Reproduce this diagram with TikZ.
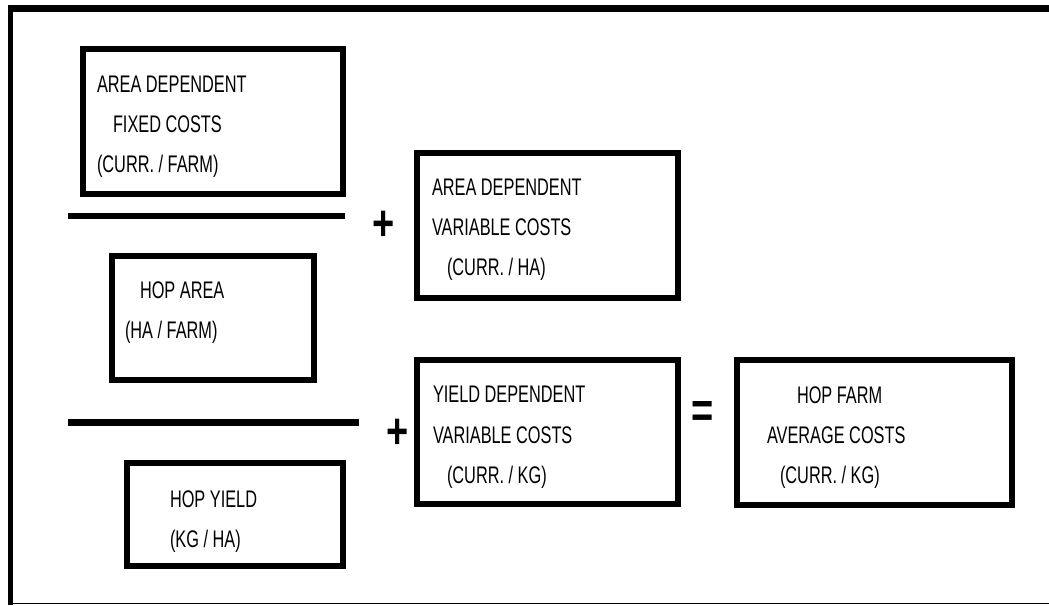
\documentclass[tikz,border=0pt]{standalone}
\usepackage{fontspec}
\setmainfont{Liberation Sans}
\newfontfamily\narrowfont[FakeStretch=0.68]{Liberation Sans}
\newfontfamily\opfont[FakeStretch=0.76]{Liberation Sans}
\tikzset{
  box/.style={draw=black, line width=6pt, rectangle, inner sep=0pt, outer sep=0pt},
  lbl/.style={anchor=base west, inner sep=0pt, outer sep=0pt, font=\narrowfont\fontsize{24}{28}\selectfont},
  op/.style={anchor=base, inner sep=0pt, outer sep=0pt, font=\opfont\bfseries\fontsize{50}{54}\selectfont},
  fracline/.style={line width=6.5pt},
}
\begin{document}
\begin{tikzpicture}[x=1pt, y=-1pt]
\useasboundingbox (0,0) rectangle (1049,605);
% outer frame
\coordinate (ftl) at (8,8.5);
\coordinate (ftr) at (1049,8.5);
\coordinate (flt) at (10.5,5);
\coordinate (flb) at (10.5,605);
\coordinate (fbl) at (8,603.5);
\coordinate (fbr) at (1049,603.5);
\draw[line width=7pt] (ftl) -- (ftr);
\draw[line width=5pt] (flt) -- (flb);
\draw[line width=1.5pt] (fbl) -- (fbr);
% boxes
\node[box, minimum width=260pt, minimum height=145pt] (fixed) at (213,121.5) {};
\node[box, minimum width=202pt, minimum height=124pt] (area) at (213,318) {};
\node[box, minimum width=216pt, minimum height=103pt] (yield) at (235,514.5) {};
\node[box, minimum width=261pt, minimum height=145pt] (avar) at (547.5,225.5) {};
\node[box, minimum width=261pt, minimum height=144pt] (yvar) at (547.5,432) {};
\node[box, minimum width=275pt, minimum height=145pt] (avg) at (874.5,432.5) {};
% fraction lines
\coordinate (f1a) at (68,216);
\coordinate (f1b) at (345,216);
\coordinate (f2a) at (68,422.5);
\coordinate (f2b) at (359,422.5);
\draw[fracline] (f1a) -- (f1b);
\draw[fracline, line width=7pt] (f2a) -- (f2b);
% operators
\node[op] (plus1) at (384,240) {+};
\node[op] (plus2) at (398,448) {+};
\node[op] (eq) at (702.5,427) {=};
% texts
\node[lbl] (t1a) at (97,92) {AREA DEPENDENT};
\node[lbl] (t1b) at (113,132) {FIXED COSTS};
\node[lbl] (t1c) at (97,172) {(CURR. / FARM)};
\node[lbl] (t2a) at (140,298) {HOP AREA};
\node[lbl] (t2b) at (125,338) {(HA / FARM)};
\node[lbl] (t3a) at (170,507) {HOP YIELD};
\node[lbl] (t3b) at (170,547) {(KG / HA)};
\node[lbl] (t4a) at (432,195) {AREA DEPENDENT};
\node[lbl] (t4b) at (432,235) {VARIABLE COSTS};
\node[lbl] (t4c) at (447,275) {(CURR. / HA)};
\node[lbl] (t5a) at (433,402) {YIELD DEPENDENT};
\node[lbl] (t5b) at (433,443) {VARIABLE COSTS};
\node[lbl] (t5c) at (447,483) {(CURR. / KG)};
\node[lbl] (t6a) at (797,403) {HOP FARM};
\node[lbl] (t6b) at (767,443) {AVERAGE COSTS};
\node[lbl] (t6c) at (780,483) {(CURR. / KG)};
\end{tikzpicture}
\end{document}
